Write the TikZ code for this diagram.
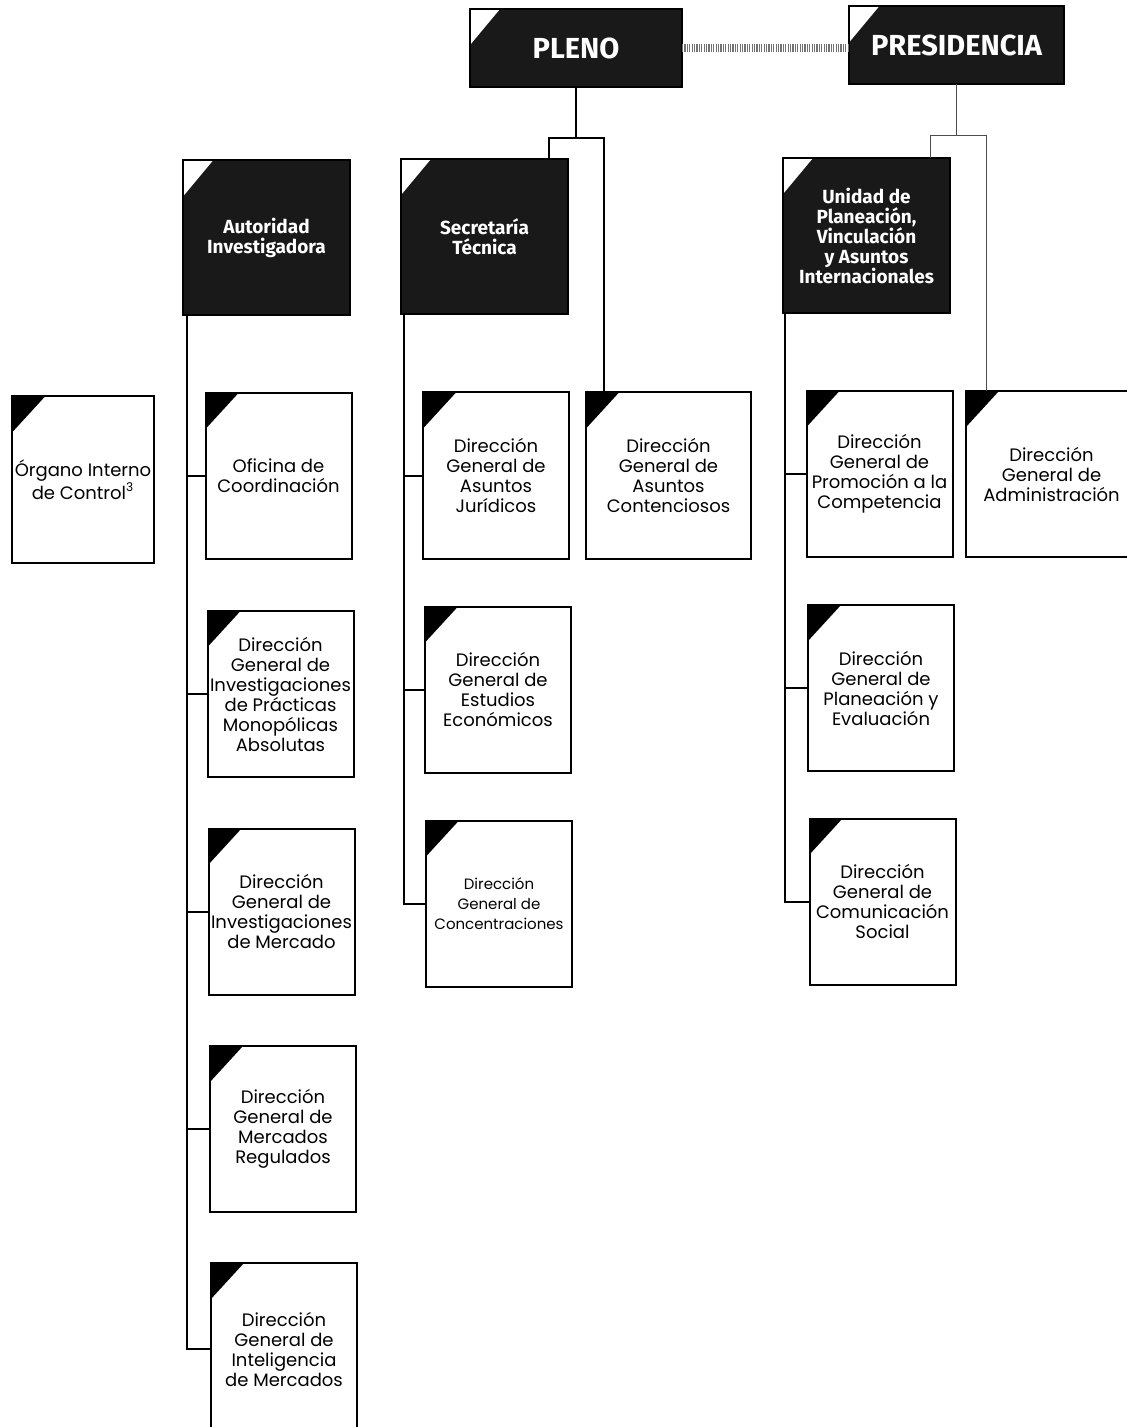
\documentclass[tikz,border=0pt]{standalone}
\usepackage{fontspec}
\setmainfont{Poppins}
\newfontfamily\headfont{Fira Sans}
\begin{document}
\begin{tikzpicture}[x=0.5pt,y=-0.5pt,inner sep=0pt,outer sep=0pt,line width=1pt,
unitblock/.style={draw,rectangle,fill=white,align=center,minimum width=73pt,minimum height=83pt,
  font=\fontsize{9}{10}\selectfont,
  path picture={\fill[black] (path picture bounding box.north west) -- ++(16.5pt,0) -- ++(-16.5pt,-18pt) -- cycle;}},
headblock/.style={draw,rectangle,fill=black!90,text=white,align=center,minimum width=83.5pt,minimum height=77.5pt,
  font=\headfont\bfseries\fontsize{9.5}{10}\selectfont,
  path picture={\fill[white] (path picture bounding box.north west) -- ++(15pt,0) -- ++(-15pt,-18pt) -- cycle;}},
topblock/.style={headblock,minimum width=106pt,minimum height=39pt,font=\headfont\bfseries\fontsize{14.5}{15}\selectfont},
link/.style={draw,line width=1pt},
thinlink/.style={draw,line width=0.5pt,black!70}]
\useasboundingbox (0,0) rectangle (1127,1427);
\draw (576,48) node[topblock] (pleno) {PLENO};
\draw (956.5,45.5) node[topblock,minimum width=107.5pt] (pres) {PRESIDENCIA};
\draw[line width=4pt,black!55,dash pattern=on 0.6pt off 0.6pt] (pleno.east) -- (pleno.east -| pres.west);
\draw (266.5,238) node[headblock] (aut) {Autoridad\\Investigadora};
\draw (484.5,236.5) node[headblock] (sec) {Secretaría\\Técnica};
\draw (866.5,235.5) node[headblock] (upv) {Unidad de\\Planeación,\\Vinculación\\y Asuntos\\Internacionales};
\draw (83,479.5) node[unitblock,minimum width=71pt] (oic) {Órgano Interno\\de Control\textsuperscript{3}};
\draw (278.5,476) node[unitblock] (ofi) {Oficina de\\Coordinación};
\draw (280.5,694) node[unitblock] (prac) {Dirección\\General de\\Investigaciones\\de Prácticas\\Monopólicas\\Absolutas};
\draw (281.5,911.5) node[unitblock] (invm) {Dirección\\General de\\Investigaciones\\de Mercado};
\draw (283,1129) node[unitblock] (reg) {Dirección\\General de\\Mercados\\Regulados};
\draw (284,1349) node[unitblock,minimum height=86pt] (intel) {Dirección\\General de\\Inteligencia\\de Mercados};
\draw (496,475.5) node[unitblock] (jur) {Dirección\\General de\\Asuntos\\Jurídicos};
\draw (668.5,475.5) node[unitblock,minimum width=82.5pt] (cont) {Dirección\\General de\\Asuntos\\Contenciosos};
\draw (498,689.5) node[unitblock] (est) {Dirección\\General de\\Estudios\\Económicos};
\draw (499,903.5) node[unitblock,font=\fontsize{7.5}{10}\selectfont] (conc) {Dirección\\General de\\Concentraciones};
\draw (879.5,474) node[unitblock] (prom) {Dirección\\General de\\Promoción a la\\Competencia};
\draw (1051.5,474) node[unitblock,minimum width=85.5pt] (adm) {Dirección\\General de\\Administración};
\draw (881,688) node[unitblock] (plan) {Dirección\\General de\\Planeación y\\Evaluación};
\draw (882.5,901.5) node[unitblock] (com) {Dirección\\General de\\Comunicación\\Social};
\coordinate (plenoL) at (549,138);
\coordinate (plenoR) at (604,138);
\draw[link] (pleno.south) -- (pleno.south |- plenoL);
\draw[link] (sec.north -| plenoL) |- (plenoR) -- (plenoR |- cont.north);
\coordinate (presL) at (930,136);
\coordinate (presR) at (986,136);
\draw[thinlink] (pres.south) -- (pres.south |- presL);
\draw[thinlink] (upv.north -| presL) |- (presR) -- (presR |- adm.north);
\foreach \n in {ofi,prac,invm,reg,intel} \draw[link] ([xshift=2pt]aut.south west) |- (\n.west);
\foreach \n in {jur,est,conc} \draw[link] ([xshift=1.5pt]sec.south west) |- (\n.west);
\foreach \n in {prom,plan,com} \draw[link] ([xshift=1pt]upv.south west) |- (\n.west);
\end{tikzpicture}
\end{document}
